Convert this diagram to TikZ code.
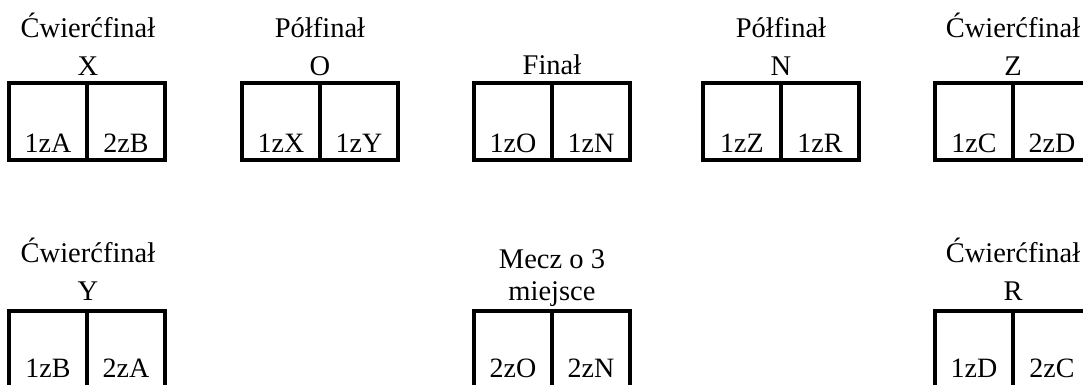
\documentclass[tikz,border=0pt]{standalone}
\usepackage{fontspec}
\setmainfont{Liberation Serif}
\begin{document}
\begin{tikzpicture}[x=1pt,y=-1pt,
  cell/.style={draw=black, line width=3.5pt, minimum width=78pt, minimum height=77pt, inner sep=0pt, outer sep=0pt},
  txt/.style={font=\fontsize{28}{32}\selectfont, inner sep=0pt, anchor=base},
  ttl/.style={font=\fontsize{28.5}{32}\selectfont, inner sep=0pt, anchor=base}]
\useasboundingbox (0,0) rectangle (1083,385);
\clip (0,0) rectangle (1083,385);
\fill[white] (0,0) rectangle (1083,385);
% ---- top row: boxes ----
\foreach \nm/\lx/\a/\b in {X/9/1zA/2zB, O/242/1zX/1zY, F/474/1zO/1zN, N/703/1zZ/1zR, Z/935/1zC/2zD}{
  \node[cell] (\nm l) at (\lx+39,121.5) {};
  \node[cell] (\nm r) at (\lx+117,121.5) {};
  \node[txt] (\nm la) at ([yshift=-30.5pt]\nm l.center) {\a};
  \node[txt] (\nm ra) at ([yshift=-30.5pt]\nm r.center) {\b};
}
% ---- top row: titles ----
\node[ttl] (tX1) at (88,38) {Ćwierćfinał};
\node[ttl] (tX2) at (88,76) {X};
\node[ttl] (tO1) at (320,38) {Półfinał};
\node[ttl] (tO2) at (320,76) {O};
\node[ttl] (tF1) at (552,75) {Finał};
\node[ttl] (tN1) at (781,38) {Półfinał};
\node[ttl] (tN2) at (781,76) {N};
\node[ttl] (tZ1) at (1013,38) {Ćwierćfinał};
\node[ttl] (tZ2) at (1013,76) {Z};
% ---- bottom row: boxes ----
\foreach \nm/\lx/\a/\b in {Y/9/1zB/2zA, M/474/2zO/2zN, R/935/1zD/2zC}{
  \node[cell] (\nm l) at (\lx+39,349.5) {};
  \node[cell] (\nm r) at (\lx+117,349.5) {};
  \node[txt] (\nm la) at ([yshift=-27.5pt]\nm l.center) {\a};
  \node[txt] (\nm ra) at ([yshift=-27.5pt]\nm r.center) {\b};
}
% ---- bottom row: titles ----
\node[ttl] (tY1) at (88,262) {Ćwierćfinał};
\node[ttl] (tY2) at (88,300) {Y};
\node[ttl] (tM1) at (552,268) {Mecz o 3};
\node[ttl] (tM2) at (552,300) {miejsce};
\node[ttl] (tR1) at (1013,262) {Ćwierćfinał};
\node[ttl] (tR2) at (1013,300) {R};
\end{tikzpicture}
\end{document}
